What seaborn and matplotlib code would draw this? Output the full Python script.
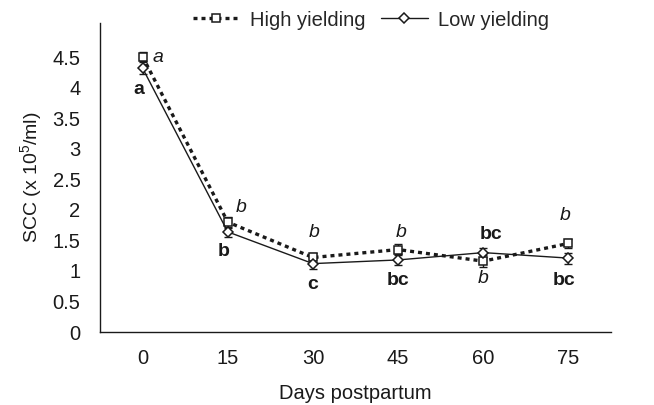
import numpy as np
import pandas as pd
import matplotlib
matplotlib.use("Agg")
import matplotlib.pyplot as plt
import seaborn as sns

# ---- data ----
days = [0, 15, 30, 45, 60, 75]
high_mean = [4.51, 1.80, 1.22, 1.35, 1.16, 1.45]
high_err = [0.07, 0.09, 0.07, 0.09, 0.10, 0.07]
low_mean = [4.32, 1.64, 1.12, 1.18, 1.30, 1.21]
low_err = [0.10, 0.08, 0.09, 0.09, 0.07, 0.09]
high_letters = ["a", "b", "b", "b", "b", "b"]
low_letters = ["a", "b", "c", "bc", "bc", "bc"]
y_ticks = [0, 0.5, 1, 1.5, 2, 2.5, 3, 3.5, 4, 4.5]
y_tick_labels = ["0", "0.5", "1", "1.5", "2", "2.5", "3", "3.5", "4", "4.5"]
x_tick_labels = ["0", "15", "30", "45", "60", "75"]

# letter placement (offset in pixels from the point)
high_offsets = [(15, -1), (13, 15), (1, 25), (3, 17), (0, -17), (-3, 28)]
low_offsets = [(-4, -21), (-4, -20), (0, -21), (0, -21), (8, 18), (-4, -22)]

sns.set_style("white")
plt.rcParams["font.family"] = ["Liberation Sans", "DejaVu Sans"]
plt.rcParams["mathtext.fontset"] = "custom"
plt.rcParams["mathtext.rm"] = "Liberation Sans"
plt.rcParams["mathtext.it"] = "Liberation Sans:italic"
plt.rcParams["mathtext.bf"] = "Liberation Sans:bold"

df = pd.DataFrame({
    "day": days * 2,
    "scc": high_mean + low_mean,
    "group": ["High yielding"] * 6 + ["Low yielding"] * 6,
})

fig = plt.figure(figsize=(6.54, 4.05), dpi=100)
ax = fig.add_axes([100 / 654, 73 / 405, 511 / 654, 309 / 405])

ink = "#1a1a1a"
# error bars
ax.errorbar(days, high_mean, yerr=high_err, fmt="none", ecolor=ink,
            elinewidth=1.0, capsize=3, capthick=1.0, zorder=2)
ax.errorbar(days, low_mean, yerr=low_err, fmt="none", ecolor=ink,
            elinewidth=1.0, capsize=3, capthick=1.0, zorder=2)

sns.lineplot(data=df[df.group == "High yielding"], x="day", y="scc", ax=ax,
             color=ink, linewidth=2.4, linestyle=(0, (1.2, 1.2)),
             marker="s", markersize=5.5, markerfacecolor="white",
             markeredgecolor=ink, markeredgewidth=1.1,
             label="High yielding", zorder=3)
sns.lineplot(data=df[df.group == "Low yielding"], x="day", y="scc", ax=ax,
             color=ink, linewidth=1.0, linestyle="-",
             marker="D", markersize=5, markerfacecolor="white",
             markeredgecolor=ink, markeredgewidth=1.1,
             label="Low yielding", zorder=3)

# significance letters
for d, m, t, off in zip(days, high_mean, high_letters, high_offsets):
    ax.annotate(t, xy=(d, m), xytext=off, textcoords="offset pixels",
                ha="center", va="center", fontsize=14, style="italic",
                color=ink)
for d, m, t, off in zip(days, low_mean, low_letters, low_offsets):
    ax.annotate(t, xy=(d, m), xytext=off, textcoords="offset pixels",
                ha="center", va="center", fontsize=14, fontweight="bold",
                color=ink)

ax.set_xlim(-7.5, 82.5)
ax.set_ylim(0, 5.06)
ax.set_xticks(days)
ax.set_xticklabels(x_tick_labels)
ax.set_xticks([-7.5 + 15 * k for k in range(7)], minor=True)
ax.set_yticks(y_ticks)
ax.set_yticklabels(y_tick_labels)

ax.tick_params(axis="x", which="major", length=0, pad=12, labelsize=14.5,
               colors=ink)
ax.tick_params(axis="x", which="minor", length=4, width=1, color=ink,
               direction="out")
ax.tick_params(axis="y", length=4, width=1, direction="out", pad=10,
               labelsize=14.5, colors=ink)

for s in ["top", "right"]:
    ax.spines[s].set_visible(False)
for s in ["left", "bottom"]:
    ax.spines[s].set_color(ink)
    ax.spines[s].set_linewidth(1.0)

ax.set_xlabel("Days postpartum", fontsize=14.5, color=ink, labelpad=12)
ax.set_ylabel("SCC (x 10$^5$/ml)", fontsize=14, color=ink, labelpad=6)

ax.legend(loc="center", bbox_to_anchor=(371 / 654, 1 - 20 / 405),
          bbox_transform=fig.transFigure, ncol=2, frameon=False,
          fontsize=14.5, handlelength=2.3, handletextpad=0.5,
          columnspacing=0.8, borderpad=0)

fig.savefig("out.png", dpi=100)
